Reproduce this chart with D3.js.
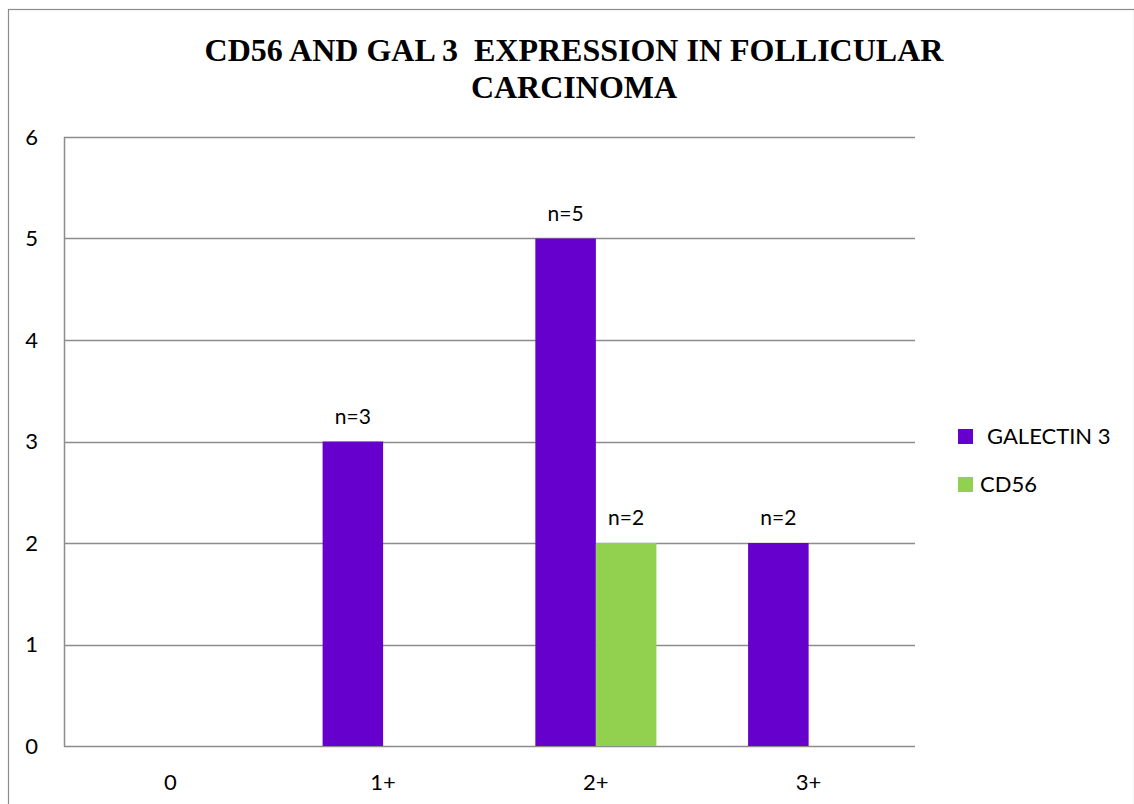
<!DOCTYPE html>
<html>
<head>
<meta charset="utf-8">
<script src="https://cdn.jsdelivr.net/npm/d3@7"></script>
<style>
  html, body { margin: 0; padding: 0; background: #fff; }
  svg { display: block; }
</style>
</head>
<body>
<svg id="chart" width="1134" height="804"></svg>
<script>
// Expression score categories and number of cases per marker
const categories = ["0", "1+", "2+", "3+"];
const seriesNames = ["GALECTIN 3", "CD56"];
const galectin3 = [0, 3, 5, 2];
const cd56 = [0, 0, 2, 0];
const yTicks = [0, 1, 2, 3, 4, 5, 6];
const colors = ["#6600CC", "#92D050"];

const seriesValues = [galectin3, cd56];
const rows = categories.map((c, i) => ({
  category: c,
  values: seriesNames.map((s, k) => ({ series: s, value: seriesValues[k][i], k }))
}));

const svg = d3.select("#chart");
const W = 1134, H = 804;
const plot = { left: 64, right: 915, top: 137, bottom: 746 };
const font = "Lato, 'Open Sans', sans-serif";

// outer chart frame
svg.append("rect")
  .attr("x", 8.5).attr("y", 9.5)
  .attr("width", W - 8).attr("height", H)
  .attr("fill", "#fff").attr("stroke", "#8c8c8c").attr("stroke-width", 1.2);

// title
const title = svg.append("text")
  .attr("text-anchor", "middle")
  .attr("font-family", "'Liberation Serif', 'Times New Roman', serif")
  .attr("font-weight", "bold")
  .attr("font-size", 32)
  .attr("fill", "#000");
title.append("tspan").attr("x", 574).attr("y", 61).attr("xml:space", "preserve")
  .text("CD56 AND GAL 3  EXPRESSION IN FOLLICULAR");
title.append("tspan").attr("x", 574).attr("y", 98).text("CARCINOMA");

const x = d3.scaleBand()
  .domain(categories)
  .range([plot.left, plot.right])
  .paddingInner(0.431)
  .paddingOuter(0.2155);

const xSub = d3.scaleBand()
  .domain(seriesNames)
  .range([0, x.bandwidth()]);

const y = d3.scaleLinear()
  .domain([0, 6])
  .range([plot.bottom, plot.top]);

// horizontal gridlines
svg.append("g")
  .selectAll("line")
  .data(yTicks)
  .join("line")
  .attr("x1", plot.left).attr("x2", plot.right)
  .attr("y1", d => Math.round(y(d)) + 0.5)
  .attr("y2", d => Math.round(y(d)) + 0.5)
  .attr("stroke", "#8c8c8c").attr("stroke-width", 1.5);

// y axis line
svg.append("line")
  .attr("x1", plot.left + 0.5).attr("x2", plot.left + 0.5)
  .attr("y1", plot.top).attr("y2", plot.bottom + 1)
  .attr("stroke", "#8c8c8c").attr("stroke-width", 1.5);

// y tick labels
const yAxis = d3.axisLeft(y).tickValues(yTicks).tickSize(0).tickPadding(0).tickFormat(d3.format("d"));
const yg = svg.append("g").attr("transform", `translate(${plot.left - 26},0)`).call(yAxis);
yg.select(".domain").remove();
yg.selectAll("text").attr("font-family", font).attr("font-size", 22).attr("fill", "#000");

// x tick labels
const xAxis = d3.axisBottom(x).tickSize(0).tickPadding(0);
const xg = svg.append("g").attr("transform", `translate(0,${plot.bottom + 28})`).call(xAxis);
xg.select(".domain").remove();
xg.selectAll("text").attr("font-family", font).attr("font-size", 22).attr("fill", "#000");

// bars
const groups = svg.append("g")
  .selectAll("g")
  .data(rows)
  .join("g")
  .attr("transform", d => `translate(${x(d.category)},0)`);

groups.selectAll("rect")
  .data(d => d.values.filter(v => v.value > 0))
  .join("rect")
  .attr("x", d => xSub(d.series))
  .attr("width", xSub.bandwidth())
  .attr("y", d => y(d.value))
  .attr("height", d => y(0) - y(d.value))
  .attr("fill", d => colors[d.k]);

// value labels
groups.selectAll("text")
  .data(d => d.values.filter(v => v.value > 0))
  .join("text")
  .attr("x", d => xSub(d.series) + xSub.bandwidth() / 2)
  .attr("y", d => y(d.value) - 18)
  .attr("text-anchor", "middle")
  .attr("font-family", font).attr("font-size", 21).attr("fill", "#000")
  .text(d => "n=" + d.value);

// legend
const legend = svg.append("g").attr("transform", "translate(958,429)");
const items = legend.selectAll("g")
  .data(seriesNames)
  .join("g")
  .attr("transform", (d, i) => `translate(0,${i * 48})`);
items.append("rect")
  .attr("width", 15).attr("height", 15)
  .attr("fill", (d, i) => colors[i]);
items.append("text")
  .attr("x", (d, i) => i === 0 ? 29 : 22)
  .attr("y", 15)
  .attr("font-family", font).attr("font-size", 22).attr("fill", "#000")
  .text(d => d);
</script>
</body>
</html>
